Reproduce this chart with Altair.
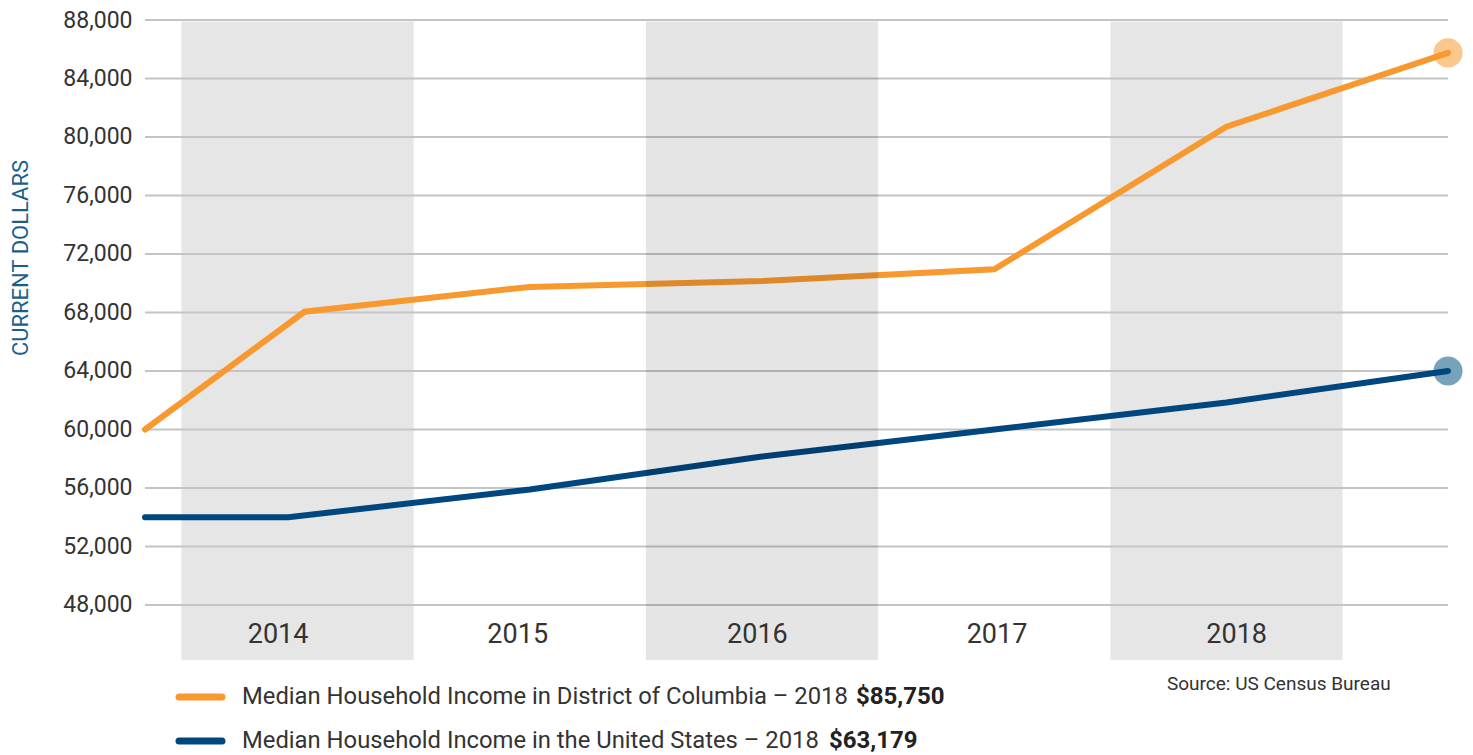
import altair as alt
import pandas as pd

# ---- data ----
years = [2014, 2015, 2016, 2017, 2018]
year_label_x = [2013.916, 2014.948, 2015.980, 2017.012, 2018.044]
shaded_under = [2014, 2018]
shaded_over = [2016]

dc_x = [2013.343, 2014.03, 2015.0, 2016.0, 2017.0, 2018.0, 2018.954]
dc_vals = [60000, 68050, 69750, 70150, 70950, 80700, 85750]
us_x = [2013.343, 2013.96, 2015.0, 2016.0, 2017.0, 2018.0, 2018.954]
us_vals = [54000, 54000, 55900, 58150, 60000, 61850, 64000]

y_ticks = [48000, 52000, 56000, 60000, 64000, 68000, 72000, 76000, 80000, 84000, 88000]

dc_label = "Median Household Income in District of Columbia \u2013 2018"
dc_value = "$85,750"
us_label = "Median Household Income in the United States \u2013 2018"
us_value = "$63,179"
source_text = "Source: US Census Bureau"
y_title = "CURRENT DOLLARS"

ORANGE = "#F7992E"
NAVY = "#00467F"
ORANGE_END = "#fbc78b"
NAVY_END = "#77a3ba"
FONT = "Roboto"

xscale = alt.Scale(domain=[2013.343, 2018.954], nice=False, zero=False)
yscale = alt.Scale(domain=[44239, 88000], nice=False, zero=False)

BAND_TOP = 87900
BAND_BOTTOM = 44239

band_under_df = pd.DataFrame({"x0": [y - 0.5 for y in shaded_under],
                              "x1": [y + 0.5 for y in shaded_under],
                              "top": [BAND_TOP] * len(shaded_under),
                              "bottom": [BAND_BOTTOM] * len(shaded_under)})
band_over_df = pd.DataFrame({"x0": [y - 0.5 for y in shaded_over],
                             "x1": [y + 0.5 for y in shaded_over],
                             "top": [BAND_TOP] * len(shaded_over),
                             "bottom": [BAND_BOTTOM] * len(shaded_over)})
years_df = pd.DataFrame({"lx": year_label_x, "label": [str(y) for y in years],
                         "ly": [45950] * len(years)})
grid_df = pd.DataFrame({"v": y_ticks})

Y_AXIS = alt.Axis(values=y_ticks, labelExpr="format(datum.value, ',')",
                  grid=False, domain=False, ticks=False, labelFontSize=23,
                  labelColor="#333333", labelFont=FONT, labelPadding=13,
                  title=None, labelOverlap=False)

X_NOAX = dict(scale=xscale, axis=None)
Y_AX = dict(scale=yscale, axis=Y_AXIS)

bands_under = alt.Chart(band_under_df).mark_rect(color="#e6e6e6").encode(
    x=alt.X("x0:Q", **X_NOAX), x2="x1:Q",
    y=alt.Y("top:Q", **Y_AX), y2="bottom:Q",
)

bands_over = alt.Chart(band_over_df).mark_rect(color="#000000", opacity=0.1).encode(
    x=alt.X("x0:Q", **X_NOAX), x2="x1:Q",
    y=alt.Y("top:Q", **Y_AX), y2="bottom:Q",
)

grid = alt.Chart(grid_df).mark_rule(color="#c4c4c4", strokeWidth=2).encode(
    y=alt.Y("v:Q", **Y_AX),
)


def series_layers(xs, vs, color, end_color):
    d = pd.DataFrame({"x": xs, "v": vs})
    e = pd.DataFrame({"x": [xs[-1]], "v": [vs[-1]]})
    end = alt.Chart(e).mark_circle(size=850, opacity=1, color=end_color).encode(
        x=alt.X("x:Q", **X_NOAX), y=alt.Y("v:Q", **Y_AX))
    line = alt.Chart(d).mark_line(strokeWidth=6, strokeCap="round", color=color).encode(
        x=alt.X("x:Q", **X_NOAX), y=alt.Y("v:Q", **Y_AX))
    return end, line


dc_end, dc_line = series_layers(dc_x, dc_vals, ORANGE, ORANGE_END)
us_end, us_line = series_layers(us_x, us_vals, NAVY, NAVY_END)

year_text = alt.Chart(years_df).mark_text(fontSize=27, font=FONT, color="#333333",
                                          baseline="middle").encode(
    x=alt.X("lx:Q", **X_NOAX),
    y=alt.Y("ly:Q", **Y_AX),
    text="label:N",
)

title_df = pd.DataFrame({"t": [y_title]})
ytitle = alt.Chart(title_df).mark_text(fontSize=22, font=FONT,
                                       color="#1a5f8c", angle=270, align="center",
                                       baseline="middle").encode(
    x=alt.value(-124), y=alt.value(238), text="t:N")

src_df = pd.DataFrame({"t": [source_text]})
source = alt.Chart(src_df).mark_text(fontSize=19, font=FONT, color="#333333",
                                     align="left", baseline="middle").encode(
    x=alt.value(1022), y=alt.value(664), text="t:N")


def legend_item(label, value, color, ypix, xval):
    d = pd.DataFrame({"label": [label], "value": [value]})
    sym = alt.Chart(d).mark_rule(color=color, strokeWidth=7, strokeCap="round").encode(
        x=alt.value(34), x2=alt.value(77), y=alt.value(ypix))
    txt = alt.Chart(d).mark_text(fontSize=23.8, font=FONT, color="#333333",
                                 align="left", baseline="middle").encode(
        x=alt.value(97), y=alt.value(ypix), text="label:N")
    val = alt.Chart(d).mark_text(fontSize=24, font=FONT, fontWeight="bold",
                                 color="#222222", align="left", baseline="middle").encode(
        x=alt.value(xval), y=alt.value(ypix), text="value:N")
    return sym + txt + val


leg1 = legend_item(dc_label, dc_value, ORANGE, 677, 711)
leg2 = legend_item(us_label, us_value, NAVY, 721, 684)

chart = alt.layer(
    bands_under, grid, dc_end, us_end, dc_line, us_line, bands_over,
    year_text, ytitle, source, leg1, leg2
).properties(
    width=1303, height=640,
    autosize=alt.AutoSizeParams(type="none"),
    padding={"left": 137, "top": 12, "right": 17, "bottom": 95},
).configure(background="white").configure_view(stroke=None)

chart.save("out.html", embed_options={"renderer": "svg", "actions": False})
